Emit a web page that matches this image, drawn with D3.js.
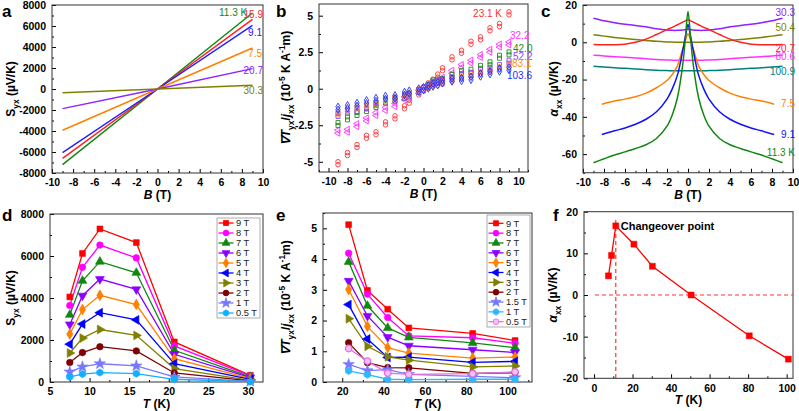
<!DOCTYPE html>
<html><head><meta charset="utf-8">
<script src="https://cdn.jsdelivr.net/npm/d3@7"></script>
<style>body{margin:0;background:#fff}svg{display:block}text{font-family:"Liberation Sans",Arial,sans-serif}</style>
</head><body><svg id="c" width="799" height="411"></svg>
<script>
// ---------- DATA ----------
// panel a
const aB = [-9, 0, 9];
const aTemps = ["11.3 K", "15.9", "9.1", "7.5", "20.7", "30.3"];
const aColors = ["#118811", "#ff2020", "#2020ff", "#ff8000", "#9020ff", "#808000"];
const aVals = [
  [-7200, 0, 7240],
  [-6600, 0, 6640],
  [-6060, 0, 6070],
  [-3930, 0, 3900],
  [-1870, 0, 1940],
  [-350, 0, 350]
];
// panel b
const bB = [-9,-8,-7,-6,-5,-4,-3,-2,-1.5,-0.5,0,0.5,1,1.5,2,3,4,5,6,7,8,9];
const bTemps = ["23.1 K", "32.2", "42.0", "52.2", "83.1", "103.6"];
const bColors = ["#ff3030", "#ff30ff", "#209020", "#9a40ff", "#ff9020", "#2030ff"];
const bShapes = ["circle", "triLeft", "square", "square", "circle", "diamond"];
const bVals = [
  [-5.1,-4.47,-3.92,-3.29,-3.05,-2.37,-1.96,-1.27,-0.89,-0.32,0,0.3,0.55,0.9,1.33,2.08,2.53,3.15,3.45,4.07,4.36,5.16],
  [-2.94,-2.88,-2.49,-2.1,-1.73,-1.39,-1.12,-0.66,-0.55,-0.2,0,0.2,0.35,0.5,0.68,1.16,1.55,1.85,2.24,2.6,2.95,3.1],
  [-2.42,-2.03,-1.73,-1.46,-1.18,-0.89,-0.75,-0.55,-0.45,-0.15,0,0.2,0.5,0.55,0.6,0.87,1.14,1.23,1.5,1.74,2.19,2.42],
  [-1.8,-1.58,-1.46,-1.28,-1.05,-0.82,-0.73,-0.55,-0.45,-0.15,0,0.15,0.4,0.45,0.5,0.7,0.85,1.0,1.2,1.35,1.55,1.85],
  [-1.69,-1.46,-1.28,-1.15,-1.0,-0.8,-0.65,-0.45,-0.38,-0.12,0,0.1,0.25,0.3,0.4,0.6,0.75,0.9,1.05,1.2,1.4,1.55],
  [-1.34,-1.23,-1.07,-0.89,-0.73,-0.59,-0.55,-0.32,-0.23,-0.09,0,0.12,0.25,0.35,0.48,0.6,0.63,0.71,0.94,1.1,1.28,1.38]
];
// panel c
const cB = [-9,-8,-7,-6,-5,-4,-3,-2,-1.5,-1,-0.5,-0.25,0,0.25,0.5,1,1.5,2,3,4,5,6,7,8,9];
const cBshort = [-8.2,-7,-6,-5,-4,-3,-2,-1.5,-1,-0.5,-0.25,0,0.25,0.5,1,1.5,2,3,4,5,6,7,8.2];
const cTemps = ["30.3", "50.4", "20.7", "80.6", "100.9", "7.5", "9.1", "11.3 K"];
const cColors = ["#9020ff", "#808000", "#ff2020", "#ff30ff", "#008080", "#ff8000", "#1010ff", "#108810"];
const cShort = [false, false, false, false, false, true, true, false];
const cVals = [
  [12.9,11.5,10.5,9.7,9.0,8.3,7.2,6.6,6.4,6.4,6.6,6.8,7.0,6.8,6.6,6.4,6.4,6.6,7.2,8.3,9.0,9.7,10.5,11.5,12.9],
  [4.0,3.3,2.6,2.0,1.5,1.0,0.5,0.2,0.1,0.0,0.0,0.0,0.0,0.0,0.0,0.0,0.1,0.2,0.5,1.0,1.5,2.0,2.6,3.3,4.0],
  [-1.2,-1.3,-1.3,-1.0,0.0,1.7,4.2,6.8,8.0,9.4,10.8,11.5,12.1,11.5,10.8,9.4,8.0,6.8,4.2,1.7,0.0,-1.0,-1.3,-1.3,-1.2],
  [-6.9,-7.3,-7.7,-8.0,-8.4,-8.8,-9.2,-9.5,-9.6,-9.7,-9.7,-9.7,-9.7,-9.7,-9.7,-9.7,-9.6,-9.5,-9.2,-8.8,-8.4,-8.0,-7.7,-7.3,-6.9],
  [-12.9,-13.3,-13.7,-14.0,-14.3,-14.7,-15.0,-15.2,-15.3,-15.3,-15.3,-15.3,-15.3,-15.3,-15.3,-15.3,-15.3,-15.2,-15.0,-14.7,-14.3,-14.0,-13.7,-13.3,-12.9],
  [-33.2,-31.5,-30.5,-29.2,-27.3,-24.4,-20.5,-17.3,-12.5,-3.5,1.0,4.6,1.0,-3.5,-12.5,-17.3,-20.5,-24.4,-27.3,-29.2,-30.5,-31.5,-33.2],
  [-49.5,-47.5,-46.0,-44.0,-41.3,-37.3,-30.5,-25.0,-17.5,-4.5,3.0,9.5,3.0,-4.5,-17.5,-25.0,-30.5,-37.3,-41.3,-44.0,-46.0,-47.5,-49.5],
  [-64.6,-62.5,-60.5,-58.8,-57.0,-55.0,-51.6,-45.0,-39.0,-29.5,-12.0,2.0,16.5,2.0,-12.0,-29.5,-39.0,-45.0,-51.6,-55.0,-57.0,-58.8,-60.5,-62.5,-64.6]
];
// panel d
const dT = [7.5, 9.1, 11.3, 15.9, 20.7, 30.3];
const dFields = ["9 T","8 T","7 T","6 T","5 T","4 T","3 T","2 T","1 T","0.5 T"];
const dColors = ["#ff0000","#ff00ff","#108810","#8a00ff","#ff8000","#0000ff","#808000","#800000","#7878ff","#10b0ff"];
const dShapes = ["square","circle","triUp","triDown","diamond","triLeft","triRight","circle","star","hex"];
const dVals = [
  [4050, 6120, 7290, 6640, 1910, 320],
  [3640, 5460, 6520, 5910, 1720, 290],
  [3200, 4820, 5730, 5200, 1510, 240],
  [2740, 4110, 4900, 4410, 1320, 210],
  [2280, 3450, 4130, 3690, 1110, 160],
  [1800, 2760, 3300, 2960, 870, 130],
  [1380, 2090, 2500, 2220, 640, 80],
  [930, 1400, 1680, 1480, 430, 50],
  [480, 720, 870, 770, 240, 30],
  [240, 380, 450, 400, 130, 15]
];
// panel e
const eT = [23.1, 32.2, 42.0, 52.2, 83.1, 103.6];
const eFields = ["9 T","8 T","7 T","6 T","5 T","4 T","3 T","2 T","1.5 T","1 T","0.5 T"];
const eColors = ["#ff0000","#ff00ff","#108810","#8a00ff","#ff8000","#0000ff","#808000","#800000","#7878ff","#30b8ff","#e070e0"];
const eShapes = ["square","circle","triUp","triDown","diamond","triLeft","triRight","circle","star","hex","circle"];
const eVals = [
  [5.12, 2.98, 2.37, 1.76, 1.58, 1.35],
  [4.19, 2.86, 2.10, 1.50, 1.44, 1.26],
  [3.91, 2.48, 1.76, 1.45, 1.27, 1.12],
  [3.29, 2.15, 1.46, 1.18, 1.05, 0.96],
  [3.01, 1.81, 1.12, 0.94, 0.78, 0.81],
  [2.52, 1.40, 0.80, 0.81, 0.64, 0.67],
  [2.06, 1.16, 0.82, 0.71, 0.49, 0.52],
  [1.28, 0.63, 0.47, 0.46, 0.28, 0.30],
  [0.57, 0.37, 0.40, 0.25, 0.18, 0.14],
  [0.36, 0.24, 0.09, 0.08, 0.09, 0.09],
  [1.09, 0.68, 0.29, 0.25, 0.27, 0.33]
];
// panel f
const fT = [7.5, 9.1, 11.3, 20.7, 30.3, 50.4, 80.6, 100.9];
const fAlpha = [4.6, 9.5, 16.6, 12.2, 6.9, 0.0, -9.8, -15.4];
const fChangeT = 11.3;

// ---------- DRAW ----------
const svg = d3.select("#c");
const FONT = '"Liberation Sans", Arial, sans-serif';
const plain = d => String(d);

const hexSym = { draw(ctx, size) {
  const r = Math.sqrt(size * 2 / (3 * Math.sqrt(3)));
  for (let i = 0; i < 6; i++) {
    const a = Math.PI / 3 * i + Math.PI / 6;
    const x = r * Math.cos(a), y = r * Math.sin(a);
    if (i === 0) ctx.moveTo(x, y); else ctx.lineTo(x, y);
  }
  ctx.closePath();
}};
function shapeInfo(name) {
  switch (name) {
    case "square": return [d3.symbolSquare, 0, 1];
    case "circle": return [d3.symbolCircle, 0, 1];
    case "triUp": return [d3.symbolTriangle, 0, 1];
    case "triDown": return [d3.symbolTriangle, 180, 1];
    case "triLeft": return [d3.symbolTriangle, -90, 1];
    case "triRight": return [d3.symbolTriangle, 90, 1];
    case "diamond": return [d3.symbolDiamond, 0, 1];
    case "star": return [d3.symbolStar, 0, 1.2];
    case "hex": return [hexSym, 0, 1];
  }
}
function marker(g, name, x, y, size, fill, stroke, sw) {
  const [t, rot, k] = shapeInfo(name);
  g.append("path").attr("d", d3.symbol(t, size * k)())
    .attr("transform", `translate(${x},${y}) rotate(${rot})`)
    .attr("fill", fill).attr("stroke", stroke).attr("stroke-width", sw || 1);
}

function rich(sel, parts, size) {
  parts.forEach(p => {
    const ts = sel.append("tspan").text(p.t);
    if (p.it) ts.attr("font-style", "italic");
    if (p.sub) ts.attr("font-size", size * 0.7).attr("dy", size * 0.3);
    if (p.sup) ts.attr("font-size", size * 0.7).attr("dy", -size * 0.4);
    if (p.back) ts.attr("dy", p.back * size);
  });
}

function makePanel(o) {
  const x = d3.scaleLinear().domain(o.xd).range([o.x0, o.x1]);
  const y = d3.scaleLinear().domain(o.yd).range([o.y1, o.y0]);
  const g = svg.append("g");
  g.append("g").attr("transform", `translate(0,${o.y1})`)
    .call(d3.axisBottom(x).tickValues(o.xminor).tickSize(-2).tickFormat(""))
    .call(s => s.select(".domain").remove());
  g.append("g").attr("transform", `translate(${o.x0},0)`)
    .call(d3.axisLeft(y).tickValues(o.yminor).tickSize(-2).tickFormat(""))
    .call(s => s.select(".domain").remove());
  const xa = g.append("g").attr("transform", `translate(0,${o.y1})`)
    .call(d3.axisBottom(x).tickValues(o.xmajor).tickSize(-4).tickPadding(6).tickFormat(plain));
  const ya = g.append("g").attr("transform", `translate(${o.x0},0)`)
    .call(d3.axisLeft(y).tickValues(o.ymajor).tickSize(-4).tickPadding(6).tickFormat(plain));
  [xa, ya].forEach(a => {
    a.select(".domain").remove();
    a.selectAll("text").attr("font-family", FONT).attr("font-weight", "bold").attr("font-size", 10.5).attr("fill", "#000");
  });
  g.selectAll(".tick line").attr("stroke", "#000");
  g.append("rect").attr("x", o.x0).attr("y", o.y0).attr("width", o.x1 - o.x0).attr("height", o.y1 - o.y0)
    .attr("fill", "none").attr("stroke", "#333").attr("stroke-width", 1);
  const xt = g.append("text").attr("x", (o.x0 + o.x1) / 2).attr("y", o.y1 + 26).attr("text-anchor", "middle")
    .attr("font-weight", "bold").attr("font-size", 12);
  rich(xt, o.xtitle, 12);
  const yt = g.append("text").attr("transform", `translate(${o.ytx},${(o.y0 + o.y1) / 2}) rotate(-90)`)
    .attr("text-anchor", "middle").attr("font-weight", "bold").attr("font-size", 12);
  rich(yt, o.ytitle, 12);
  svg.append("text").attr("x", o.lx).attr("y", o.ly).attr("font-weight", "bold").attr("font-size", 17).text(o.letter);
  const clip = "clip" + o.letter;
  svg.append("clipPath").attr("id", clip).append("rect").attr("x", o.x0).attr("y", o.y0).attr("width", o.x1 - o.x0).attr("height", o.y1 - o.y0);
  const plot = svg.append("g").attr("clip-path", `url(#${clip})`);
  const over = svg.append("g");
  return { x, y, plot, over };
}
const range = (a, b, s) => d3.range(a, b + s / 2, s);
const syxTitle = [{t: "S"}, {t: "yx", sub: true}, {t: " (µV/K)", back: -0.3}];
const gradTitle = [{t: "∇T", it: true}, {t: "yx", sub: true}, {t: "/", back: -0.3}, {t: "j", it: true}, {t: "xx", sub: true},
  {t: " (10", back: -0.3}, {t: "-5", sup: true}, {t: " K A", back: 0.4}, {t: "-1", sup: true}, {t: "m)", back: 0.4}];
const alphaTitle = [{t: "α", it: true}, {t: "xx", sub: true}, {t: " (µV/K)", back: -0.3}];
const BT = [{t: "B", it: true}, {t: " (T)"}];
const TK = [{t: "T", it: true}, {t: " (K)"}];

// ---- panel a ----
{
  const p = makePanel({letter: "a", lx: 2, ly: 17, x0: 52, x1: 263, y0: 5, y1: 173, xd: [-10, 10], yd: [-8000, 8000],
    xmajor: range(-10, 10, 2), xminor: range(-9, 9, 2), ymajor: range(-8000, 8000, 2000), yminor: range(-7000, 7000, 2000),
    xtitle: BT, ytitle: syxTitle, ytx: 15});
  const line = d3.line().x((d, i) => p.x(aB[i])).y(d => p.y(d));
  aVals.forEach((v, k) => p.plot.append("path").attr("d", line(v)).attr("fill", "none").attr("stroke", aColors[k]).attr("stroke-width", 1.5));
  const lab = [[219, 16, "start"], [263, 18, "end"], [262, 36, "end"], [262, 57, "end"], [263, 74, "end"], [263, 94, "end"]];
  aTemps.forEach((t, k) => p.over.append("text").attr("x", lab[k][0]).attr("y", lab[k][1]).attr("text-anchor", lab[k][2])
    .attr("font-size", 10).attr("fill", aColors[k]).text(t));
}
// ---- panel b ----
{
  const p = makePanel({letter: "b", lx: 276, ly: 17, x0: 319, x1: 528, y0: 4, y1: 172, xd: [-11, 11], yd: [-5.7, 5.8],
    xmajor: range(-10, 10, 2), xminor: range(-11, 11, 1).filter(v => v % 2 !== 0), ymajor: [-5, -2.5, 0, 2.5, 5],
    yminor: [-3.75, -1.25, 1.25, 3.75],
    xtitle: BT, ytitle: gradTitle, ytx: 290});
  bVals.forEach((v, k) => v.forEach((d, i) => {
    marker(p.plot, bShapes[k], p.x(bB[i]), p.y(d) - 1.5, 16, "none", bColors[k], 0.9);
    marker(p.plot, bShapes[k], p.x(bB[i]), p.y(d) + 1.5, 16, "none", bColors[k], 0.9);
  }));
  const lab = [[502, 17, "end"], [510, 39, "start"], [513, 52, "start"], [513, 60, "start"], [512, 67, "start"], [507, 79, "start"]];
  bTemps.forEach((t, k) => p.over.append("text").attr("x", lab[k][0]).attr("y", lab[k][1]).attr("text-anchor", lab[k][2])
    .attr("font-size", 10).attr("fill", bColors[k]).text(t));
}
// ---- panel c ----
{
  const p = makePanel({letter: "c", lx: 541, ly: 17, x0: 583, x1: 793, y0: 5, y1: 172.75, xd: [-10, 10], yd: [-70, 20],
    xmajor: range(-10, 10, 2), xminor: range(-9, 9, 2), ymajor: [-60, -40, -20, 0, 20], yminor: [-70, -50, -30, -10, 10],
    xtitle: BT, ytitle: alphaTitle, ytx: 558});
  cVals.forEach((v, k) => {
    const bx = cShort[k] ? cBshort : cB;
    const line = d3.line().x((d, i) => p.x(bx[i])).y(d => p.y(d)).curve(d3.curveCatmullRom.alpha(0.5));
    p.plot.append("path").attr("d", line(v)).attr("fill", "none").attr("stroke", cColors[k]).attr("stroke-width", 1.5);
  });
  const lab = [16, 31, 52, 60, 75, 107, 138, 156];
  cTemps.forEach((t, k) => p.over.append("text").attr("x", 795).attr("y", lab[k]).attr("text-anchor", "end")
    .attr("font-size", 10).attr("fill", cColors[k]).text(t));
}
// legend helper
function legend(g, x, y, w, h, names, colors, shapes, first, step, fills) {
  g.append("rect").attr("x", x).attr("y", y).attr("width", w).attr("height", h).attr("fill", "#fff").attr("stroke", "#999").attr("stroke-width", 0.8);
  names.forEach((n, k) => {
    const cy = y + first + k * step;
    g.append("line").attr("x1", x + 1.5).attr("x2", x + 16.5).attr("y1", cy).attr("y2", cy).attr("stroke", colors[k]).attr("stroke-width", 1.3);
    marker(g, shapes[k], x + 9, cy, 26, fills ? fills[k] : colors[k], colors[k], 0.8);
    g.append("text").attr("x", x + 19).attr("y", cy + 3.3).attr("font-size", 9.3).attr("fill", "#222").text(n);
  });
}
// ---- panel d ----
{
  const p = makePanel({letter: "d", lx: 2, ly: 221, x0: 50, x1: 263, y0: 214, y1: 382, xd: [5, 31.9], yd: [0, 8000],
    xmajor: range(5, 30, 5), xminor: range(7.5, 30, 5), ymajor: range(0, 8000, 2000), yminor: range(1000, 7000, 2000),
    xtitle: TK, ytitle: syxTitle, ytx: 15});
  const line = d3.line().x((d, i) => p.x(dT[i])).y(d => p.y(d));
  dVals.forEach((v, k) => {
    p.plot.append("path").attr("d", line(v)).attr("fill", "none").attr("stroke", dColors[k]).attr("stroke-width", 1.3);
  });
  dVals.forEach((v, k) => v.forEach((d, i) => marker(p.over, dShapes[k], p.x(dT[i]), p.y(d), 34, dColors[k], dColors[k], 0.6)));
  legend(p.over, 217, 218, 43, 100, dFields, dColors, dShapes, 5, 10);
}
// ---- panel e ----
{
  const p = makePanel({letter: "e", lx: 276, ly: 221, x0: 323, x1: 532, y0: 213, y1: 382, xd: [10.7, 111.8], yd: [0, 5.5],
    xmajor: range(20, 100, 20), xminor: range(30, 110, 20), ymajor: range(0, 5, 1), yminor: range(0.5, 5.5, 1),
    xtitle: TK, ytitle: gradTitle, ytx: 290});
  const line = d3.line().x((d, i) => p.x(eT[i])).y(d => p.y(d));
  eVals.forEach((v, k) => {
    p.plot.append("path").attr("d", line(v)).attr("fill", "none").attr("stroke", eColors[k]).attr("stroke-width", 1.3);
  });
  const eFill = eColors.map((c, k) => k === 10 ? "#f4c0f4" : c);
  eVals.forEach((v, k) => v.forEach((d, i) => marker(p.over, eShapes[k], p.x(eT[i]), p.y(d), 34, eFill[k], eColors[k], k === 10 ? 1.2 : 0.6)));
  legend(p.over, 487, 215, 43, 112, eFields, eColors, eShapes, 8.3, 9.84, eFill);
}
// ---- panel f ----
{
  const p = makePanel({letter: "f", lx: 553, ly: 221, x0: 584, x1: 793, y0: 211.7, y1: 378.3, xd: [-5.2, 103.3], yd: [-20, 20],
    xmajor: range(0, 100, 20), xminor: range(10, 90, 20), ymajor: range(-20, 20, 10), yminor: range(-15, 15, 10),
    xtitle: TK, ytitle: alphaTitle, ytx: 557});
  p.plot.append("line").attr("x1", p.x(fChangeT)).attr("x2", p.x(fChangeT)).attr("y1", p.y(18)).attr("y2", p.y(-20))
    .attr("stroke", "#ff3030").attr("stroke-width", 1.2).attr("stroke-dasharray", "4,3");
  p.plot.append("line").attr("x1", p.x(0.5)).attr("x2", p.x(103.3)).attr("y1", p.y(0)).attr("y2", p.y(0))
    .attr("stroke", "#ff3030").attr("stroke-width", 1.2).attr("stroke-dasharray", "4,3");
  const line = d3.line().x((d, i) => p.x(fT[i])).y(d => p.y(d));
  p.plot.append("path").attr("d", line(fAlpha)).attr("fill", "none").attr("stroke", "#ff0000").attr("stroke-width", 1.3);
  fAlpha.forEach((d, i) => marker(p.over, "square", p.x(fT[i]), p.y(d), 36, "#ff0000", "#ff0000", 0.5));
  p.over.append("text").attr("x", p.x(fChangeT) + 5).attr("y", p.y(16.6) + 4).attr("font-size", 11).attr("font-weight", "bold").text("Changeover point");
}
</script></body></html>
